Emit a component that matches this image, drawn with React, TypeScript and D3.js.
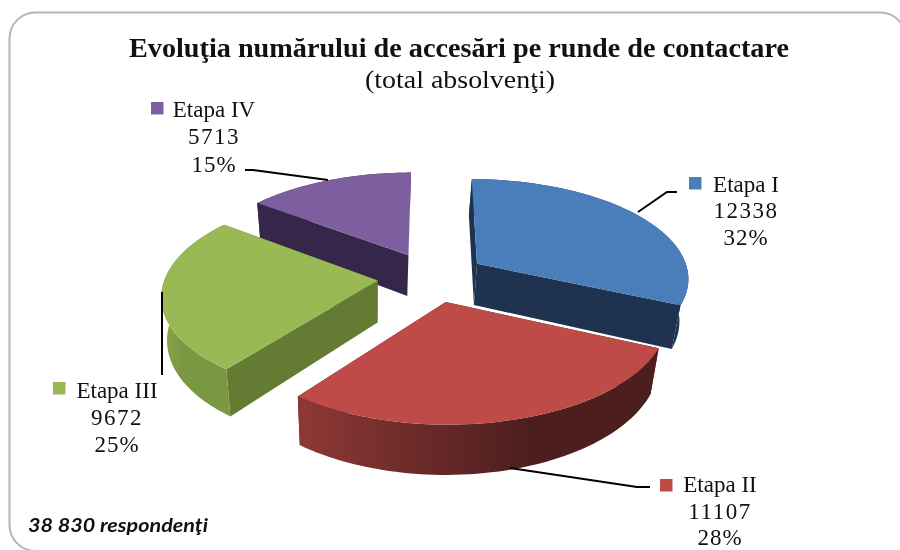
import React from "react";
import * as d3 from "d3";

const categories = ["Etapa I", "Etapa II", "Etapa III", "Etapa IV"];
const values = [12338, 11107, 9672, 5713];
const percentLabels = ["32%", "28%", "25%", "15%"];
const topColors = ["#4A7EBB", "#BE4B48", "#98B954", "#7D5FA0"];
const wallColors = ["#1F3350", "#4F1F1E", "#637B33", "#35264A"];
const outerStart = ["#1F3350", "#8E3836", "#8DAA4E", "#35264A"];
const outerEnd = ["#1F3350", "#4C1E1D", "#7A9742", "#35264A"];
const outerStop = [1, 0.64, 0.3, 1];
const drawOrder = [3, 0, 2, 1];

const W = 900, H = 550;
const CX = 432, CY = 277, BX = 218, AY = 100, P = 0.134, EXPL = 0.25, DEPTH = 42, SHRINK = 0.972, LOW_SHIFT = -1.8, RU = 0.975, RV = 0.99;

const pieLayout = d3.pie<number>().sort(null).value((d) => d);
const slices = pieLayout(values);
const xScale = d3.scaleLinear().domain([0, 1]).range([CX, CX + BX]);
const yScale = d3.scaleLinear().domain([0, 1]).range([CY, CY + AY]);

type Pt = [number, number];
const project = (u: number, v: number, low: boolean): Pt => {
  const f = 1 / (1 - P * v);
  const x = xScale(u * f);
  const y = yScale(v * f);
  return low ? [CX + LOW_SHIFT + (x - CX) * SHRINK, y + DEPTH * f] : [x, y];
};
const line = d3.line<Pt>();

function sliceGeometry(i: number) {
  const s = slices[i];
  const mid = (s.startAngle + s.endAngle) / 2;
  const ox = EXPL * Math.sin(mid), oy = -EXPL * Math.cos(mid);
  const angles = d3.range(0, 61).map((k) => s.startAngle + ((s.endAngle - s.startAngle) * k) / 60);
  const arcAt = (low: boolean) => angles.map((a) => project(ox + RU * Math.sin(a), oy - RV * Math.cos(a), low));
  const apexHi = project(ox, oy, false), apexLo = project(ox, oy, true);
  const hi = arcAt(false), lo = arcAt(true);
  return {
    top: line([apexHi, ...hi])! + "Z",
    outer: line([...hi, ...lo.slice().reverse()])! + "Z",
    wallA: line([apexHi, hi[0], lo[0], apexLo])! + "Z",
    wallB: line([apexHi, hi[60], lo[60], apexLo])! + "Z",
    x0: d3.min(hi, (p) => p[0])!,
    x1: d3.max(hi, (p) => p[0])!,
  };
}

const labels = [
  { key: [689, 177], cx: 746, base: [192, 218, 245] },
  { key: [660, 479], cx: 720, base: [492, 519, 545] },
  { key: [53, 382], cx: 117, base: [398, 425, 452] },
  { key: [151, 102], cx: 214, base: [117, 144, 172] },
];
const leaders: Pt[][] = [
  [[677, 192], [667, 192], [638, 212]],
  [[650, 487], [637, 487], [510, 468]],
  [[162, 292], [162, 375]],
  [[245, 170], [253, 170], [328, 180]],
];

const SERIF = "'Liberation Serif', serif";
const geoms = values.map((_, i) => sliceGeometry(i));

const framePath = () => {
  const p = d3.path();
  const l = 9.5, t = 12.5, r = 906, b = 551, rad = 26;
  p.moveTo(r, t + rad);
  p.arcTo(r, t, r - rad, t, rad);
  p.lineTo(l + rad, t);
  p.arcTo(l, t, l, t + rad, rad);
  p.lineTo(l, b - rad);
  p.arcTo(l, b, l + rad, b, rad);
  p.lineTo(r + 20, b);
  return p.toString();
};

export default function App() {
  return (
    <svg width={W} height={H} style={{ position: "absolute", left: 0, top: 0, background: "#fff", filter: "blur(0.4px)" }}>
      <defs>
        {geoms.map((g, i) => (
          <linearGradient key={i} id={`outer${i}`} gradientUnits="userSpaceOnUse" x1={g.x0} x2={g.x1} y1={0} y2={0}>
            <stop offset="0" stopColor={outerStart[i]} />
            <stop offset={outerStop[i]} stopColor={outerEnd[i]} />
          </linearGradient>
        ))}
      </defs>
      <path d={framePath()} fill="none" stroke="#b5b5b5" strokeWidth={2} />
      <text x={459} y={57} textAnchor="middle" fontFamily={SERIF} fontWeight="bold" fontSize={28} textLength={660} lengthAdjust="spacingAndGlyphs" fill="#111">
        Evoluţia numărului de accesări pe runde de contactare
      </text>
      <text x={460} y={88} textAnchor="middle" fontFamily={SERIF} fontSize={26} textLength={190} lengthAdjust="spacingAndGlyphs" fill="#111">
        (total absolvenţi)
      </text>
      {drawOrder.map((i) => (
        <g key={i}>
          <path d={geoms[i].wallA} fill={wallColors[i]} />
          <path d={geoms[i].wallB} fill={wallColors[i]} />
          <path d={geoms[i].outer} fill={`url(#outer${i})`} />
          <path d={geoms[i].top} fill={topColors[i]} />
        </g>
      ))}
      {leaders.map((pts, i) => (
        <path key={i} d={line(pts)!} fill="none" stroke="#000" strokeWidth={2} />
      ))}
      {labels.map((l, i) => (
        <g key={i} fontFamily={SERIF} fontSize={23} fill="#111" textAnchor="middle">
          <rect x={l.key[0]} y={l.key[1]} width={12.5} height={12.5} fill={topColors[i]} />
          <text x={l.cx} y={l.base[0]}>{categories[i]}</text>
          <text x={l.cx} y={l.base[1]} letterSpacing={1.5}>{values[i]}</text>
          <text x={l.cx} y={l.base[2]} letterSpacing={1}>{percentLabels[i]}</text>
        </g>
      ))}
      <text x={28} y={532} fontFamily="Lato, sans-serif" fontWeight="bold" fontStyle="italic" fontSize={19} textLength={180} lengthAdjust="spacingAndGlyphs" fill="#111">
        38 830 respondenţi
      </text>
    </svg>
  );
}
